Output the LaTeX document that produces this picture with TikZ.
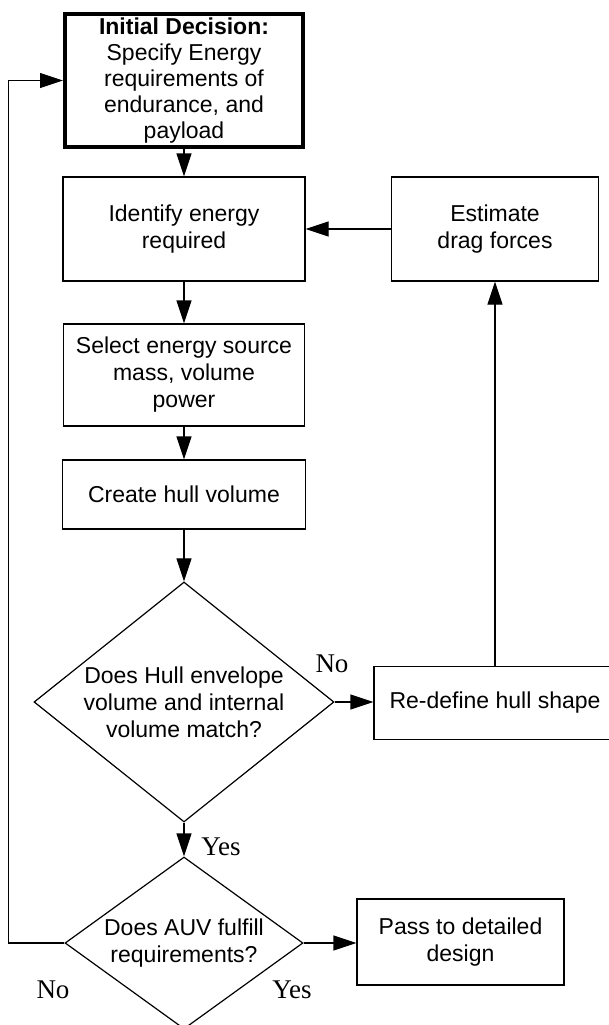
\documentclass[tikz,border=0pt]{standalone}
\usepackage{fontspec}
\setmainfont{Liberation Sans}
\newfontfamily\lblfont{Liberation Serif}
\usetikzlibrary{shapes.geometric,arrows.meta}

\begin{document}
\begin{tikzpicture}[x=1pt,y=-1pt,
  every node/.style={font=\fontsize{23}{27}\selectfont, align=center},
  box/.style={draw, line width=1.2pt, inner sep=0pt},
  initbox/.style={draw, line width=4pt, inner sep=0pt, font=\fontsize{23}{26}\selectfont},
  decision/.style={draw, diamond, line width=1.2pt, inner sep=0pt},
  lbl/.style={font=\lblfont\fontsize{27}{30}\selectfont, inner sep=0pt},
  arr/.style={line width=1.2pt, -{Triangle[length=23pt,width=15pt]}}]

\useasboundingbox (0,0) rectangle (609,1025);

% main column
\node[initbox, minimum width=238pt, minimum height=133pt] (Initial) at (184,80.5)
  {\textbf{Initial Decision:}\\Specify Energy\\requirements of\\endurance, and\\payload};
\node[box, minimum width=242pt, minimum height=104pt] (Identify) at (184,229) {Identify energy\\required};
\node[box, minimum width=241pt, minimum height=102pt] (Select) at (184,375) {Select energy source\\mass, volume\\power};
\node[box, minimum width=243pt, minimum height=69pt] (Create) at (184,494.5) {Create hull volume};

% decisions
\node[decision, shape aspect=1.25, minimum width=300pt, minimum height=240pt] (Match) at (184,702)
  {Does Hull envelope\\volume and internal\\volume match?};
\node[decision, shape aspect=1.38, minimum width=238pt, minimum height=172pt] (Fulfil) at (184,943)
  {Does AUV fulfill\\requirements?};

% right column
\node[box, minimum width=207pt, minimum height=104pt] (Estimate) at (495,229) {Estimate\\drag forces};
\node[box, minimum width=242pt, minimum height=73pt] (Redefine) at (495,703) {Re-define hull shape};
\node[box, minimum width=207pt, minimum height=86pt] (Pass) at (460.5,942) {Pass to detailed\\design};

% labels
\node[lbl] (noMatch) at (332,664) {No};
\node[lbl] (yesMatch) at (221,847) {Yes};
\node[lbl] (noFulfil) at (53,990) {No};
\node[lbl] (yesFulfil) at (292,990) {Yes};

% connectors
\draw[arr] (Initial) -- (Identify);
\draw[arr] (Identify) -- (Select);
\draw[arr] (Select) -- (Create);
\draw[arr] (Create) -- (Match);
\draw[arr] (Match) -- (Fulfil);
\draw[arr] (Match.east) -- (Match.east -| Redefine.west);
\draw[arr] (Redefine.north -| Estimate) -- (Estimate);
\draw[arr] (Estimate) -- (Identify);
\draw[arr] (Fulfil.east) -- (Fulfil.east -| Pass.west);
\draw[arr] (Fulfil.west) -- ++(-56,0) |- (Initial.west);

\end{tikzpicture}
\end{document}
